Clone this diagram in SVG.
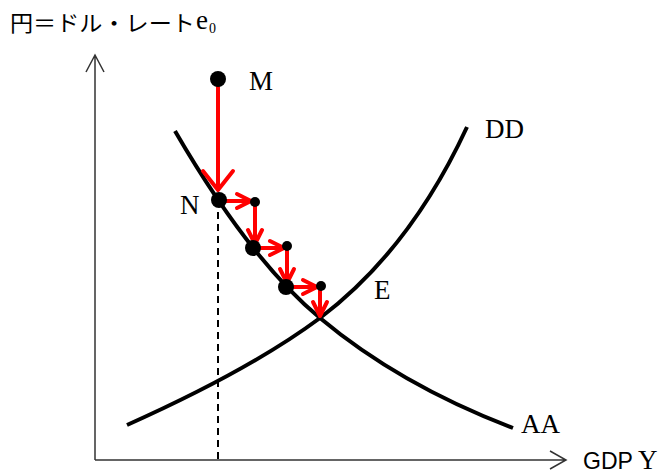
<svg xmlns="http://www.w3.org/2000/svg" width="671" height="474" viewBox="0 0 671 474">
<style>
.ax{fill:none;stroke:#333;stroke-width:1.5}
.cv{fill:none;stroke:#000;stroke-width:4;stroke-linecap:butt}
.rd{fill:none;stroke:#f00;stroke-width:4}
.rh{fill:none;stroke:#f00;stroke-width:4;stroke-linecap:round;stroke-linejoin:round}
.lb{font-family:"Liberation Serif",serif;font-size:27px;fill:#000}
.jp{font-family:"Noto Sans CJK JP","Noto Sans CJK SC",sans-serif;font-size:22px;fill:#000}
.ss{font-family:"Liberation Sans",sans-serif;font-size:24px;fill:#000}
</style>
<rect width="671" height="474" fill="#fff"/>
<g id="axes">
<path class="ax" d="M95,460 V55 M86,72 L95,55 L104,72"/>
<path class="ax" d="M95,460 H566 M550,451 L566,460 L550,469"/>
<path d="M218,200 V460" fill="none" stroke="#000" stroke-width="2" stroke-dasharray="7,5"/>
</g>
<g id="curves">
<path id="AA" class="cv" d="M175,131 Q250,260 320,318 Q400,385 513,428"/>
<path id="DD" class="cv" d="M127,425 Q250,370 320,318 Q410,250 467,127"/>
</g>
<g id="connectors">
<path class="rd" stroke-width="5" d="M218,79 V190"/><path class="rh" stroke-width="5" d="M203,171 L218,190 L233,171"/>
<path class="rd" d="M219,201 H251"/><path class="rh" d="M237,194 L251,201 L237,208"/>
<path class="rd" d="M255,202 V244"/><path class="rh" d="M248,230 L255,244 L262,230"/>
<path class="rd" d="M253,248 H284"/><path class="rh" d="M270,241 L284,248 L270,255"/>
<path class="rd" d="M287,246 V283"/><path class="rh" d="M280,269 L287,283 L294,269"/>
<path class="rd" d="M286,287 H317"/><path class="rh" d="M303,280 L317,287 L303,294"/>
<path class="rd" d="M320,286 V316"/><path class="rh" d="M313,302 L320,316 L327,302"/>
</g>
<g id="M"><circle cx="218" cy="79" r="8"/><text class="lb" x="249" y="90">M</text></g>
<g id="N"><circle cx="219" cy="200" r="8"/><text class="lb" x="180" y="214">N</text></g>
<g id="p1"><circle cx="255" cy="202" r="5"/></g>
<g id="p2"><circle cx="253" cy="248" r="8"/></g>
<g id="p3"><circle cx="287" cy="246" r="5"/></g>
<g id="p4"><circle cx="286" cy="287" r="8"/></g>
<g id="p5"><circle cx="321" cy="286" r="5"/></g>
<g id="E"><text class="lb" x="374" y="299">E</text></g>
<g id="DDl"><text class="lb" x="485" y="138">DD</text></g>
<g id="AAl"><text class="lb" x="521" y="433">AA</text></g>
<g id="xl"><text class="ss" x="583" y="469" textLength="50" lengthAdjust="spacingAndGlyphs">GDP</text><text class="lb" font-size="28" x="638" y="469">Y</text></g>
<g id="yl"><text class="jp" x="10" y="31" textLength="185" lengthAdjust="spacingAndGlyphs">円＝ドル・レート</text><text class="lb" x="196" y="29">e</text><text font-family="Liberation Serif,serif" font-size="14" x="209" y="33">0</text></g>
</svg>
